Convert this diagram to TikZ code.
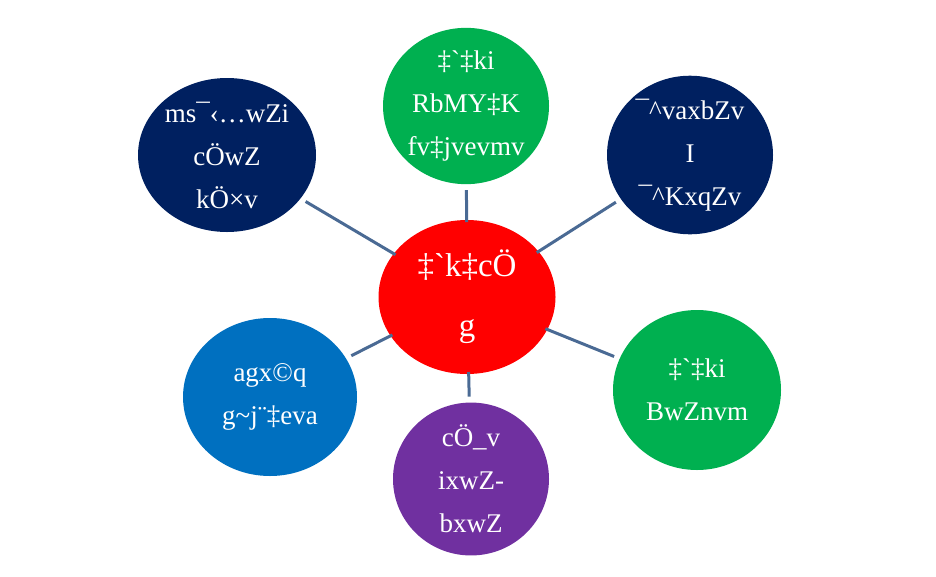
\documentclass[tikz,border=0pt]{standalone}
\usepackage{fontspec}
\newfontfamily\mjfont[Ligatures=TeXOff]{Liberation Serif}
\usepackage{tikz}
\usetikzlibrary{shapes.geometric}
\definecolor{navyD}{HTML}{002060}
\definecolor{greenG}{HTML}{00B050}
\definecolor{redC}{HTML}{FF0000}
\definecolor{blueB}{HTML}{0070C0}
\definecolor{purpleP}{HTML}{7030A0}
\definecolor{spokeblue}{HTML}{4A6A94}

\begin{document}
\begin{tikzpicture}[x=1pt, y=-1pt,
    bub/.style={ellipse, draw=none, text=white, align=center, inner sep=0pt, outer sep=0pt, font=\mjfont\fontsize{27}{43}\selectfont},
    spoke/.style={draw=spokeblue, line width=3pt, shorten <=-2pt, shorten >=6pt}
]
\useasboundingbox (0,0) rectangle (936,576);
% ---- CENTRE ----
\node[bub, fill=redC, minimum width=177, minimum height=154, font=\mjfont\fontsize{33}{60}\selectfont] (core) at (467,297) {‡\symbol{96}k‡cÖ\\g};

% ---- OUTER BUBBLES ----
\node[bub, fill=navyD, minimum width=178, minimum height=154] (culture) at (227,155) {ms¯‹…wZi\\cÖwZ\\kÖ×v};
\node[bub, fill=greenG, minimum width=166, minimum height=156] (people) at (466,106) {‡\symbol{96}‡ki\\RbMY‡K\\fv‡jvevmv};
\node[bub, fill=navyD, minimum width=166, minimum height=156] (freedom) at (690,155) {¯\symbol{94}vaxbZv\\I\\¯\symbol{94}KxqZv};
\node[bub, fill=greenG, minimum width=168, minimum height=160] (history) at (697,390) {‡\symbol{96}‡ki\\BwZnvm};
\node[bub, fill=purpleP, minimum width=156, minimum height=142] (custom) at (471,479) {cÖ\symbol{95}v\\ixwZ-\\bxwZ};
\node[bub, fill=blueB, minimum width=174, minimum height=158] (values) at (270,397) {agx©q\\g\symbol{126}j¨‡eva};

% spokes
\draw[spoke] (core) -- (culture);
\draw[spoke] (core) -- (people);
\draw[spoke] (core) -- (freedom);
\draw[spoke] (core) -- (history);
\draw[spoke] (core) -- (custom);
\draw[spoke] (core) -- (values);
\end{tikzpicture}
\end{document}
